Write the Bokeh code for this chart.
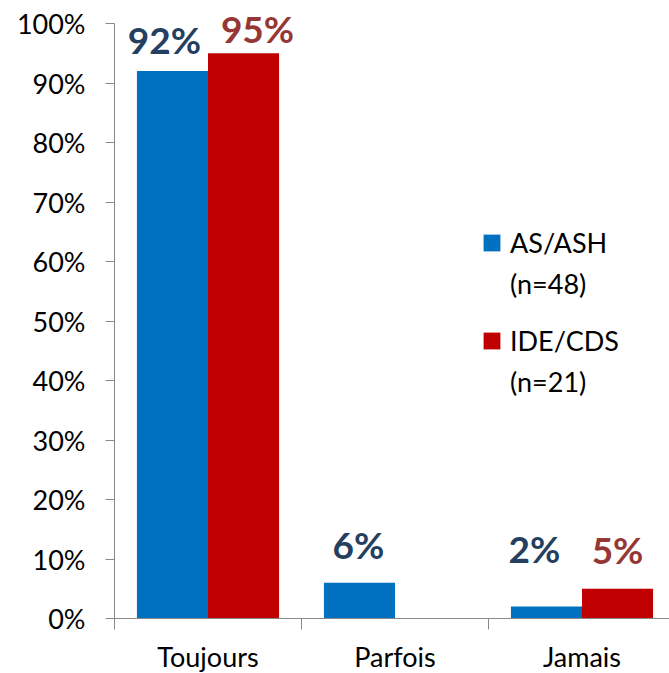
import numpy as np
from bokeh.plotting import figure
from bokeh.models import (ColumnDataSource, Range1d, FixedTicker, NumeralTickFormatter,
                          Legend, LegendItem, LabelSet)
from bokeh.transform import dodge
from bokeh.core.properties import value
from bokeh.embed import file_html
from bokeh.resources import INLINE

categories = ["Toujours", "Parfois", "Jamais"]
as_ash = [0.92, 0.06, 0.02]
ide_cds = [0.95, 0.00, 0.05]
series_names = ["AS/ASH", "IDE/CDS"]
series_n = ["(n=48)", "(n=21)"]
y_ticks = [0.0, 0.1, 0.2, 0.3, 0.4, 0.5, 0.6, 0.7, 0.8, 0.9, 1.0]

# label placement tweaks (screen px), styling only
a_dx = [-8, -1, -12]
a_lift = [17, 24, 44]
b_dx = [14, 0, 0]
b_lift = [10, 0, 25]

BLUE = "#0070C0"
RED = "#C00000"
BLUE_TXT = "#243F60"
RED_TXT = "#953735"
FONT = "Lato"

xc = np.arange(len(categories)) + 0.5
src = ColumnDataSource(dict(
    x=xc, cat=categories, a=as_ash, b=ide_cds,
    la=[f"{v:.0%}" for v in as_ash],
    lb=[f"{v:.0%}" if v > 0 else "" for v in ide_cds],
    adx=a_dx, alift=a_lift, bdx=b_dx, blift=b_lift,
))

UNIT_PX = 595          # pixels for 0..100 %
CAT_PX = 187           # pixels per category
FW, FH = 555, 618
p = figure(frame_width=FW, frame_height=FH, output_backend="svg", toolbar_location=None,
           x_range=Range1d(0, FW / CAT_PX), y_range=Range1d(0, FH / UNIT_PX),
           min_border_left=114, min_border_right=0, min_border_top=0, min_border_bottom=0)
p.outline_line_color = None
p.grid.grid_line_color = None

bw = 0.38
r_a = p.vbar(x=dodge("x", -bw / 2), top="a", width=bw, source=src, fill_color=BLUE, line_color=None)
r_b = p.vbar(x=dodge("x", bw / 2), top="b", width=bw, source=src, fill_color=RED, line_color=None)
# empty, invisible renderer used only to give the "(n=..)" legend lines no swatch
r_blank = p.scatter(x=[], y=[], marker="square", fill_alpha=0, line_alpha=0)

la = LabelSet(x=dodge("x", -bw / 2), y="a", text="la", source=src, text_align="center",
              text_baseline="alphabetic", x_offset="adx", y_offset="alift",
              text_font=value(FONT), text_font_style="bold",
              text_font_size="37px", text_color=BLUE_TXT)
lb = LabelSet(x=dodge("x", bw / 2), y="b", text="lb", source=src, text_align="center",
              text_baseline="alphabetic", x_offset="bdx", y_offset="blift",
              text_font=value(FONT), text_font_style="bold",
              text_font_size="37px", text_color=RED_TXT)
p.add_layout(la)
p.add_layout(lb)

AX = "#898989"
p.yaxis.bounds = (0, 1)
p.yaxis.ticker = FixedTicker(ticks=y_ticks)
p.yaxis.formatter = NumeralTickFormatter(format="0%")
p.yaxis.axis_line_color = AX
p.yaxis.major_tick_line_color = AX
p.yaxis.minor_tick_line_color = None
p.yaxis.major_tick_out = 9
p.yaxis.major_tick_in = 0
p.yaxis.major_label_standoff = 20
p.yaxis.major_label_text_font = FONT
p.yaxis.major_label_text_font_size = "27px"
p.yaxis.major_label_text_color = "black"

p.xaxis.ticker = FixedTicker(ticks=list(xc), minor_ticks=[0, 1, 2, 3])
p.xaxis.major_label_overrides = {float(x): c for x, c in zip(xc, categories)}
p.xaxis.axis_line_color = AX
p.xaxis.major_tick_line_color = None
p.xaxis.major_tick_out = 0
p.xaxis.major_tick_in = 0
p.xaxis.minor_tick_line_color = AX
p.xaxis.minor_tick_out = 11
p.xaxis.minor_tick_in = 0
p.xaxis.major_label_standoff = 10
p.xaxis.major_label_text_font = FONT
p.xaxis.major_label_text_font_size = "27px"
p.xaxis.major_label_text_color = "black"


def make_legend(name, n, rend, loc):
    lg = Legend(items=[LegendItem(label=name, renderers=[rend]),
                       LegendItem(label=n, renderers=[r_blank])],
                location=loc)
    lg.border_line_color = None
    lg.background_fill_alpha = 0
    lg.padding = 0
    lg.margin = 0
    lg.spacing = 8
    lg.glyph_width = 21
    lg.glyph_height = 21
    lg.label_height = 32
    lg.label_standoff = 8
    lg.label_text_font = FONT
    lg.label_text_font_size = "27px"
    lg.label_text_color = "black"
    lg.label_text_baseline = "middle"
    return lg


p.add_layout(make_legend(series_names[0], series_n[0], r_a, (367, 318)))
p.add_layout(make_legend(series_names[1], series_n[1], r_b, (367, 220)))

open("out.html", "w").write(file_html(p, INLINE))
